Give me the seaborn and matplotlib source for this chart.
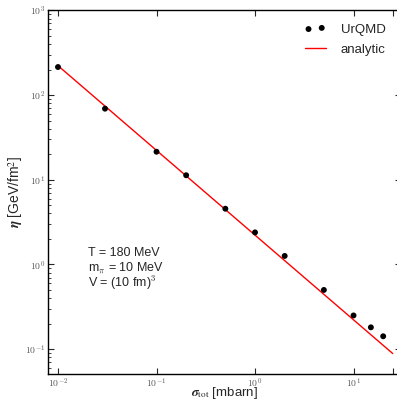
import numpy as np
import pandas as pd
import matplotlib
matplotlib.use("Agg")
import matplotlib.pyplot as plt
import seaborn as sns
from matplotlib.ticker import LogLocator, NullFormatter

# ---- data ----
sigma_urqmd = [0.01, 0.03, 0.1, 0.2, 0.5, 1, 2, 5, 10, 15, 20]
eta_urqmd = [214, 69, 21.4, 11.3, 4.55, 2.39, 1.26, 0.50, 0.25, 0.181, 0.142]
sigma_analytic = [0.01, 25.0]
eta_analytic = [222, 0.0888]
xtick_vals = [0.01, 0.1, 1, 10, 25]
xtick_labels = [r"$10^{-2}$", r"$10^{-1}$", r"$10^{0}$", r"$10^{1}$", ""]
ytick_vals = [0.1, 1, 10, 100, 1000]
ytick_labels = [r"$10^{-1}$", r"$10^{0}$", r"$10^{1}$", r"$10^{2}$", r"$10^{3}$"]

df_pts = pd.DataFrame({"sigma": sigma_urqmd, "eta": eta_urqmd})
df_line = pd.DataFrame({"sigma": sigma_analytic, "eta": eta_analytic})

sns.set_style("ticks")
plt.rcParams["font.family"] = ["Liberation Sans", "DejaVu Sans"]
plt.rcParams["mathtext.fontset"] = "cm"

fig = plt.figure(figsize=(3.97, 4.01), dpi=100)
ax = fig.add_axes([0.1209, 0.068, 0.8887, 0.9063])

sns.lineplot(data=df_line, x="sigma", y="eta", ax=ax, color="red",
             linewidth=1.0, label="analytic", zorder=2)
sns.scatterplot(data=df_pts, x="sigma", y="eta", ax=ax, color="black",
                s=18, edgecolor="none", label="UrQMD", zorder=3)

ax.set_xscale("log")
ax.set_yscale("log")
ax.set_xlim(10 ** -2.1015, 10 ** 1.48)
ax.set_ylim(10 ** -1.29, 1000)

ax.set_xticks(xtick_vals)
ax.set_xticklabels(xtick_labels)
ax.xaxis.set_minor_locator(plt.NullLocator())
ax.set_yticks(ytick_vals)
ax.set_yticklabels(ytick_labels)
ax.yaxis.set_minor_locator(LogLocator(base=10, subs=np.arange(2, 10)))
ax.yaxis.set_minor_formatter(NullFormatter())

ax.tick_params(axis="both", which="major", direction="in", length=4, width=0.8,
               labelsize=7, labelcolor="0.35", top=True, right=True, pad=2)
ax.tick_params(axis="y", which="minor", direction="in", length=2, width=0.6,
               left=True, right=True)
for sp in ax.spines.values():
    sp.set_linewidth(1.0)
    sp.set_color("black")

xl = ax.set_xlabel(r"$\mathbfit{\sigma}_{\rm tot}$ [mbarn]", fontsize=9.5)
xl.set_math_fontfamily("stix")
ax.xaxis.set_label_coords(0.5, -0.031)
yl = ax.set_ylabel(r"$\mathbfit{\eta}$ [GeV/fm$^2$]", fontsize=10)
yl.set_math_fontfamily("stix")
ax.yaxis.set_label_coords(-0.066, 0.5)

fig.text(88 / 397, 1 - 253 / 401, "T = 180 MeV", fontsize=9, va="center", ha="left")
fig.text(88 / 397, 1 - 268 / 401, r"m$_\pi$ = 10 MeV", fontsize=9, va="center", ha="left")
fig.text(88 / 397, 1 - 283 / 401, r"V = (10 fm)$^3$", fontsize=9, va="center", ha="left")

handles, labels = ax.get_legend_handles_labels()
order = [labels.index("UrQMD"), labels.index("analytic")]
leg = ax.legend([handles[i] for i in order], [labels[i] for i in order],
                loc="upper right", bbox_to_anchor=(391 / 397, 1 - 18 / 401),
                bbox_transform=fig.transFigure, frameon=False, fontsize=9.5,
                scatterpoints=2, handlelength=1.6, handletextpad=1.15,
                labelspacing=0.6, borderaxespad=0)

fig.savefig("out.png", dpi=100)
